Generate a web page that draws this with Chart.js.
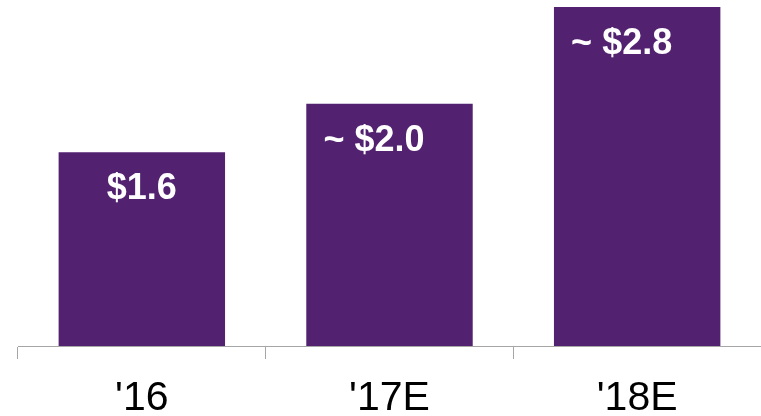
<!DOCTYPE html>
<html>
<head>
<meta charset="utf-8">
<script src="https://cdn.jsdelivr.net/npm/chart.js@4/dist/chart.umd.min.js"></script>
<style>
  html, body { margin: 0; padding: 0; background: #ffffff; }
  #wrap { width: 761px; height: 416px; position: relative; }
</style>
</head>
<body>
<div id="wrap"><canvas id="revenueChart"></canvas></div>
<script>
// Chart data
const years = ["'16", "'17E", "'18E"];
const revenue = [1.6, 2.0, 2.8];
const prefixes = ['', '~ ', '~ '];

// Value labels inside the top of each bar; the amount is centred, the "~ " sits to its left
const barLabels = {
    id: 'barLabels',
    afterDatasetsDraw(chart) {
        const ctx = chart.ctx;
        const meta = chart.getDatasetMeta(0);
        ctx.save();
        ctx.font = 'bold 36px "Liberation Sans", Arial, sans-serif';
        ctx.fillStyle = '#ffffff';
        ctx.textBaseline = 'alphabetic';
        meta.data.forEach((bar, i) => {
            const amount = '$' + revenue[i].toFixed(1);
            const y = bar.y + 47;
            ctx.textAlign = 'center';
            ctx.fillText(amount, bar.x, y);
            if (prefixes[i]) {
                const w = ctx.measureText(amount).width;
                ctx.textAlign = 'right';
                ctx.fillText(prefixes[i], bar.x - w / 2, y);
            }
        });
        ctx.restore();
    }
};

const ctx = document.getElementById('revenueChart').getContext('2d');
new Chart(ctx, {
    type: 'bar',
    data: {
        labels: years,
        datasets: [{
            data: revenue,
            backgroundColor: '#522170',
            borderWidth: 0,
            barPercentage: 0.672,
            categoryPercentage: 1
        }]
    },
    options: {
        responsive: true,
        maintainAspectRatio: false,
        animation: false,
        layout: { padding: { left: 18, top: 7, right: 0, bottom: 0 } },
        plugins: {
            legend: { display: false },
            tooltip: { enabled: false }
        },
        scales: {
            x: {
                offset: true,
                afterFit(scale) { scale.height = 70; },
                border: { display: true, color: '#a6a6a6', width: 1 },
                grid: {
                    offset: true,
                    drawOnChartArea: false,
                    drawTicks: true,
                    tickLength: 13,
                    tickColor: '#a6a6a6',
                    tickWidth: 1
                },
                ticks: {
                    color: '#000000',
                    padding: 15,
                    font: { family: '"Liberation Sans", Arial, sans-serif', size: 41 }
                }
            },
            y: {
                display: false,
                min: 0,
                max: 2.8
            }
        }
    },
    plugins: [barLabels]
});
</script>
</body>
</html>
